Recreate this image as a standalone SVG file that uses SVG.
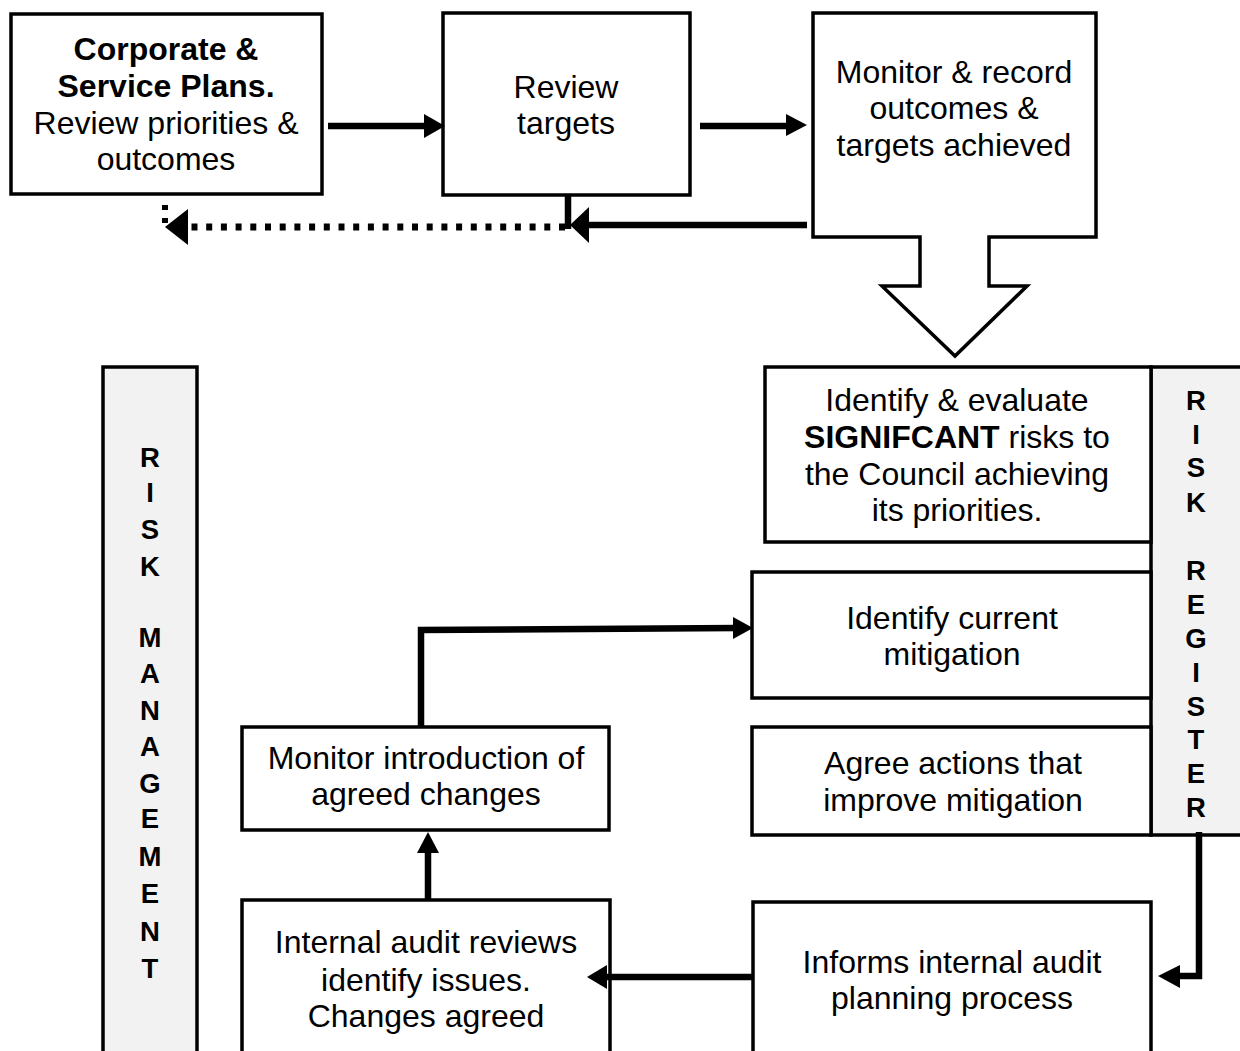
<svg xmlns="http://www.w3.org/2000/svg" width="1240" height="1051" viewBox="0 0 1240 1051">
<defs>
<style>
.box{fill:#fff;stroke:#000;stroke-width:3.5}
.bar{fill:#f2f2f2;stroke:#000;stroke-width:3.5}
.t{font-family:"Liberation Sans",Arial,sans-serif;font-size:32px;fill:#000;text-anchor:middle}
.b{font-weight:bold}
.v{font-family:"Liberation Sans",Arial,sans-serif;font-size:27.5px;font-weight:bold;fill:#000;text-anchor:middle}
.ln{stroke:#000;stroke-width:6.5;fill:none}
.ah{fill:#000}
</style>
</defs>
<rect width="1240" height="1051" fill="#fff"/>
<g id="n1">
<rect class="box" x="11" y="14" width="311" height="180"/>
<text class="t b" x="166" y="60" font-size="32">Corporate &amp;</text>
<text class="t b" x="166" y="97" font-size="32">Service Plans.</text>
<text class="t" x="166" y="134" font-size="33">Review priorities &amp;</text>
<text class="t" x="166" y="170" font-size="33">outcomes</text>
</g>
<g id="n2">
<rect class="box" x="443" y="13" width="247" height="182"/>
<text class="t" x="566" y="98">Review</text>
<text class="t" x="566" y="134">targets</text>
</g>
<g id="n3">
<path class="box" d="M813,13 H1096 V237 H989 V286 H1027 L955,356 L882,286 H920 V237 H813 Z"/>
<text class="t" x="954" y="83">Monitor &amp; record</text>
<text class="t" x="954" y="119">outcomes &amp;</text>
<text class="t" x="954" y="156">targets achieved</text>
</g>
<g id="register">
<rect class="bar" x="1151" y="367" width="100" height="468"/>
<text class="v" x="1196" y="410">R</text>
<text class="v" x="1196" y="444">I</text>
<text class="v" x="1196" y="477">S</text>
<text class="v" x="1196" y="512">K</text>
<text class="v" x="1196" y="580">R</text>
<text class="v" x="1196" y="614">E</text>
<text class="v" x="1196" y="648">G</text>
<text class="v" x="1196" y="682">I</text>
<text class="v" x="1196" y="716">S</text>
<text class="v" x="1196" y="749">T</text>
<text class="v" x="1196" y="783">E</text>
<text class="v" x="1196" y="817">R</text>
</g>
<g id="n4">
<rect class="box" x="765" y="367" width="386" height="175"/>
<text class="t" x="957" y="411">Identify &amp; evaluate</text>
<text class="t" x="957" y="448"><tspan font-weight="bold">SIGNIFCANT</tspan> risks to</text>
<text class="t" x="957" y="485">the Council achieving</text>
<text class="t" x="957" y="521">its priorities.</text>
</g>
<g id="n5">
<rect class="box" x="752" y="572" width="399" height="126"/>
<text class="t" x="952" y="629">Identify current</text>
<text class="t" x="952" y="665">mitigation</text>
</g>
<g id="n6">
<rect class="box" x="752" y="727" width="399" height="108"/>
<text class="t" x="953" y="774">Agree actions that</text>
<text class="t" x="953" y="811">improve mitigation</text>
</g>
<g id="n7">
<rect class="box" x="753" y="902" width="398" height="170"/>
<text class="t" x="952" y="973">Informs internal audit</text>
<text class="t" x="952" y="1009">planning process</text>
</g>
<g id="n8">
<rect class="box" x="242" y="900" width="368" height="170"/>
<text class="t" x="426" y="953">Internal audit reviews</text>
<text class="t" x="426" y="991">identify issues.</text>
<text class="t" x="426" y="1027">Changes agreed</text>
</g>
<g id="n9">
<rect class="box" x="242" y="727" width="367" height="103"/>
<text class="t" x="426" y="769">Monitor introduction of</text>
<text class="t" x="426" y="805">agreed changes</text>
</g>
<g id="management">
<rect class="bar" x="103" y="367" width="94" height="700"/>
<text class="v" x="150" y="467">R</text>
<text class="v" x="150" y="502">I</text>
<text class="v" x="150" y="539">S</text>
<text class="v" x="150" y="576">K</text>
<text class="v" x="150" y="647">M</text>
<text class="v" x="150" y="683">A</text>
<text class="v" x="150" y="720">N</text>
<text class="v" x="150" y="756">A</text>
<text class="v" x="150" y="793">G</text>
<text class="v" x="150" y="828">E</text>
<text class="v" x="150" y="866">M</text>
<text class="v" x="150" y="903">E</text>
<text class="v" x="150" y="941">N</text>
<text class="v" x="150" y="978">T</text>
</g>
<g id="connectors">
<line class="ln" x1="328" y1="126" x2="428" y2="126"/>
<polygon class="ah" points="424,114 445,126 424,138"/>
<line class="ln" x1="700" y1="126" x2="790" y2="126"/>
<polygon class="ah" points="786,114 807,125 786,136"/>
<line class="ln" x1="807" y1="225" x2="585" y2="225"/>
<polygon class="ah" points="570,225 589,207 589,243"/>
<line class="ln" x1="568" y1="195" x2="568" y2="229"/>
<line x1="565" y1="227" x2="190" y2="227" stroke="#000" stroke-width="7" stroke-dasharray="6 8.7"/>
<polygon class="ah" points="165,227 188,209 188,245"/>
<rect x="162" y="205" width="6" height="5" fill="#000"/>
<rect x="162" y="218" width="6" height="5" fill="#000"/>
<polyline class="ln" points="421,727 421,630 738,628"/>
<polygon class="ah" points="733,617 753,628 733,639"/>
<line class="ln" x1="752" y1="977" x2="604" y2="977"/>
<polygon class="ah" points="587,977 607,965 607,989"/>
<line class="ln" x1="428" y1="900" x2="428" y2="848"/>
<polygon class="ah" points="417,853 428,832 439,853"/>
<polyline class="ln" points="1199,832 1199,976 1176,976"/>
<polygon class="ah" points="1158,976 1180,965 1180,988"/>
</g>
</svg>
